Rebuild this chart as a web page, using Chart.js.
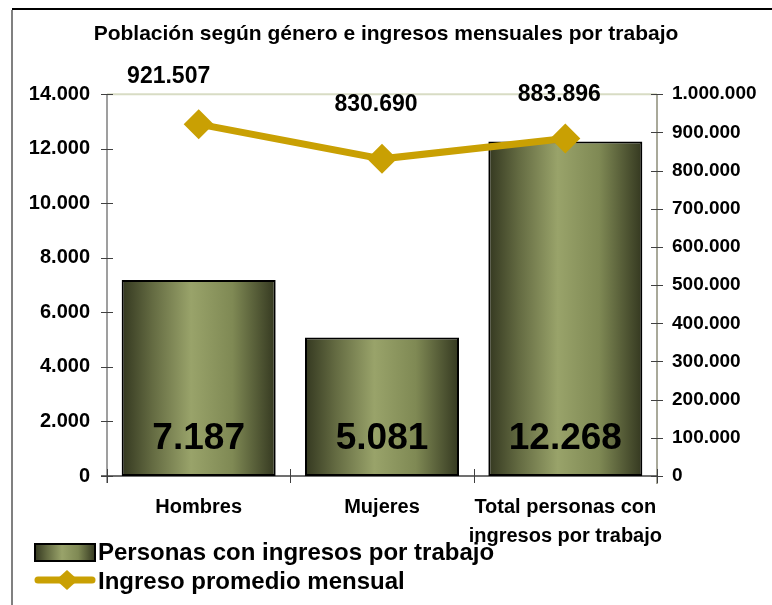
<!DOCTYPE html>
<html>
<head>
<meta charset="utf-8">
<script src="https://cdn.jsdelivr.net/npm/chart.js@4/dist/chart.umd.min.js"></script>
<style>
  html, body { margin: 0; padding: 0; background: #fff; }
  #wrap { position: relative; width: 772px; height: 605px; }
</style>
</head>
<body>
<div id="wrap"><canvas id="chart" width="772" height="605"></canvas></div>
<script>
const categories = ["Hombres", "Mujeres", ["Total personas con", "ingresos por trabajo"]];
const personas = [7187, 5081, 12268];
const ingresoPromedio = [921507, 830690, 883896];
const leftTicks = [0, 2000, 4000, 6000, 8000, 10000, 12000, 14000];
const rightTicks = [0, 100000, 200000, 300000, 400000, 500000, 600000, 700000, 800000, 900000, 1000000];

const FONT = "'Liberation Sans', Arial, sans-serif";
const GOLD = "#c9a003";
const BAR_PCT = 0.84;
// where the line value labels sit relative to their points
const lineLabelOffsets = [[-30, -48], [-6, -54], [-6, -44]];

const fmt = (v) => String(Math.round(v)).replace(/\B(?=(\d{3})+(?!\d))/g, ".");

function gradientBetween(ctx, left, right) {
  const g = ctx.createLinearGradient(left, 0, right, 0);
  g.addColorStop(0, "#343820");
  g.addColorStop(0.2, "#646b42");
  g.addColorStop(0.45, "#99a36a");
  g.addColorStop(0.72, "#7f8954");
  g.addColorStop(1, "#343820");
  return g;
}

function barFill(c) {
  const chart = c.chart;
  const x = chart.scales.x;
  const a = chart.chartArea;
  if (!x || !a || c.dataIndex === undefined) return "#7d8652";
  const w = (a.right - a.left) / categories.length * BAR_PCT;
  const cx = x.getPixelForValue(c.dataIndex);
  return gradientBetween(chart.ctx, cx - w / 2, cx + w / 2);
}

// frame, crossing ticks, value labels, legend
const decor = {
  id: "decor",
  beforeDraw(chart) {
    const { ctx } = chart;
    ctx.save();
    ctx.fillStyle = "#fff";
    ctx.fillRect(0, 0, chart.width, chart.height);
    ctx.fillStyle = "#000";
    ctx.fillRect(12, 8, chart.width - 12, 2);
    ctx.fillStyle = "#808080";
    ctx.fillRect(11, 10, 2, chart.height - 10);
    ctx.restore();
  },
  beforeDatasetsDraw(chart) {
    const { ctx, chartArea: a, scales } = chart;
    ctx.save();
    // top border of plot area
    ctx.strokeStyle = "#d8dcc4";
    ctx.lineWidth = 2;
    ctx.beginPath();
    ctx.moveTo(a.left, a.top);
    ctx.lineTo(a.right, a.top);
    ctx.stroke();
    // axis lines
    ctx.lineWidth = 1.5;
    ctx.strokeStyle = "#7f7f7f";
    ctx.beginPath();
    ctx.moveTo(a.left, a.top); ctx.lineTo(a.left, a.bottom + 7);
    ctx.stroke();
    ctx.strokeStyle = "#8c8c78";
    ctx.beginPath();
    ctx.moveTo(a.right, a.top); ctx.lineTo(a.right, a.bottom + 8);
    ctx.stroke();
    ctx.strokeStyle = "#404040";
    ctx.beginPath();
    ctx.moveTo(a.left - 6, a.bottom); ctx.lineTo(a.right, a.bottom);
    ctx.stroke();
    // crossing ticks
    ctx.strokeStyle = "#404040";
    ctx.lineWidth = 1;
    scales.y.ticks.forEach((t, i) => {
      const y = Math.round(scales.y.getPixelForTick(i)) + 0.5;
      ctx.beginPath(); ctx.moveTo(a.left - 6, y); ctx.lineTo(a.left + 6, y); ctx.stroke();
    });
    scales.y2.ticks.forEach((t, i) => {
      const y = Math.round(scales.y2.getPixelForTick(i)) + 0.5;
      ctx.beginPath(); ctx.moveTo(a.right - 6, y); ctx.lineTo(a.right + 6, y); ctx.stroke();
    });
    const x = scales.x;
    for (let i = 0; i <= categories.length; i++) {
      let px;
      if (i === 0) px = a.left;
      else if (i === categories.length) px = a.right;
      else px = (x.getPixelForValue(i - 1) + x.getPixelForValue(i)) / 2;
      px = Math.round(px) + 0.5;
      ctx.beginPath(); ctx.moveTo(px, a.bottom - 7); ctx.lineTo(px, a.bottom + 7); ctx.stroke();
    }
    ctx.restore();
  },
  afterDatasetsDraw(chart) {
    const { ctx } = chart;
    ctx.save();
    ctx.fillStyle = "#000";
    ctx.textAlign = "center";
    ctx.textBaseline = "alphabetic";
    ctx.font = "bold 37px " + FONT;
    chart.getDatasetMeta(1).data.forEach((el, i) => {
      ctx.fillText(fmt(personas[i]), el.x, 449);
    });
    ctx.font = "bold 23px " + FONT;
    ctx.textBaseline = "middle";
    chart.getDatasetMeta(0).data.forEach((el, i) => {
      const [dx, dy] = lineLabelOffsets[i];
      ctx.fillText(fmt(ingresoPromedio[i]), el.x + dx, el.y + dy);
    });

    // legend
    const lx = 35, lw = 60;
    ctx.fillStyle = gradientBetween(ctx, lx, lx + lw);
    ctx.fillRect(lx, 544, lw, 17);
    ctx.strokeStyle = "#000";
    ctx.lineWidth = 2;
    ctx.strokeRect(lx, 544, lw, 17);

    ctx.strokeStyle = GOLD;
    ctx.lineWidth = 7;
    ctx.lineCap = "round";
    ctx.beginPath(); ctx.moveTo(lx + 3, 580); ctx.lineTo(lx + lw - 3, 580); ctx.stroke();
    ctx.fillStyle = GOLD;
    ctx.beginPath();
    ctx.moveTo(lx + 32, 570); ctx.lineTo(lx + 43, 580);
    ctx.lineTo(lx + 32, 590); ctx.lineTo(lx + 21, 580);
    ctx.closePath(); ctx.fill();

    ctx.fillStyle = "#000";
    ctx.textAlign = "left";
    ctx.textBaseline = "alphabetic";
    ctx.font = "bold 24px " + FONT;
    ctx.fillText("Personas con ingresos por trabajo", 98, 560);
    ctx.fillText("Ingreso promedio mensual", 98, 589);
    ctx.restore();
  }
};

new Chart(document.getElementById("chart"), {
  data: {
    labels: categories,
    datasets: [
      {
        type: "line",
        label: "Ingreso promedio mensual",
        data: ingresoPromedio,
        yAxisID: "y2",
        borderColor: GOLD,
        backgroundColor: GOLD,
        borderWidth: 7,
        pointStyle: "rectRot",
        pointRadius: 15,
        pointHoverRadius: 15,
        pointBorderWidth: 0,
        tension: 0,
        order: 0
      },
      {
        type: "bar",
        label: "Personas con ingresos por trabajo",
        data: personas,
        yAxisID: "y",
        backgroundColor: barFill,
        borderColor: "#000",
        borderWidth: 2,
        borderSkipped: false,
        categoryPercentage: BAR_PCT,
        barPercentage: 1,
        order: 1
      }
    ]
  },
  options: {
    responsive: false,
    animation: false,
    layout: { padding: { left: 0, right: 0, top: 0, bottom: 0 } },
    plugins: {
      legend: { display: false },
      tooltip: { enabled: false },
      title: {
        display: true,
        text: "Población según género e ingresos mensuales por trabajo",
        color: "#000",
        font: { family: FONT, size: 21, weight: "bold", lineHeight: 1.2 },
        padding: { top: 22, bottom: 47 }
      }
    },
    scales: {
      x: {
        offset: true,
        grid: { display: false },
        border: { display: false },
        ticks: {
          color: "#000",
          font: { family: FONT, size: 20, weight: "bold", lineHeight: 1.45 },
          padding: 9,
          maxRotation: 0,
          autoSkip: false
        },
        afterFit: (s) => { s.height = 129; }
      },
      y: {
        position: "left",
        min: 0,
        max: 14000,
        afterBuildTicks: (s) => { s.ticks = leftTicks.map((v) => ({ value: v })); },
        grid: { display: false },
        border: { display: false },
        ticks: {
          color: "#000",
          font: { family: FONT, size: 20, weight: "bold" },
          padding: 9,
          callback: (v) => fmt(v)
        },
        afterFit: (s) => { s.width = 107; }
      },
      y2: {
        position: "right",
        min: 0,
        max: 1000000,
        afterBuildTicks: (s) => { s.ticks = rightTicks.map((v) => ({ value: v })); },
        grid: { display: false },
        border: { display: false },
        ticks: {
          color: "#000",
          font: { family: FONT, size: 19, weight: "bold" },
          padding: 7,
          callback: (v) => fmt(v)
        },
        afterFit: (s) => { s.width = 115; }
      }
    }
  },
  plugins: [decor]
});
</script>
</body>
</html>
